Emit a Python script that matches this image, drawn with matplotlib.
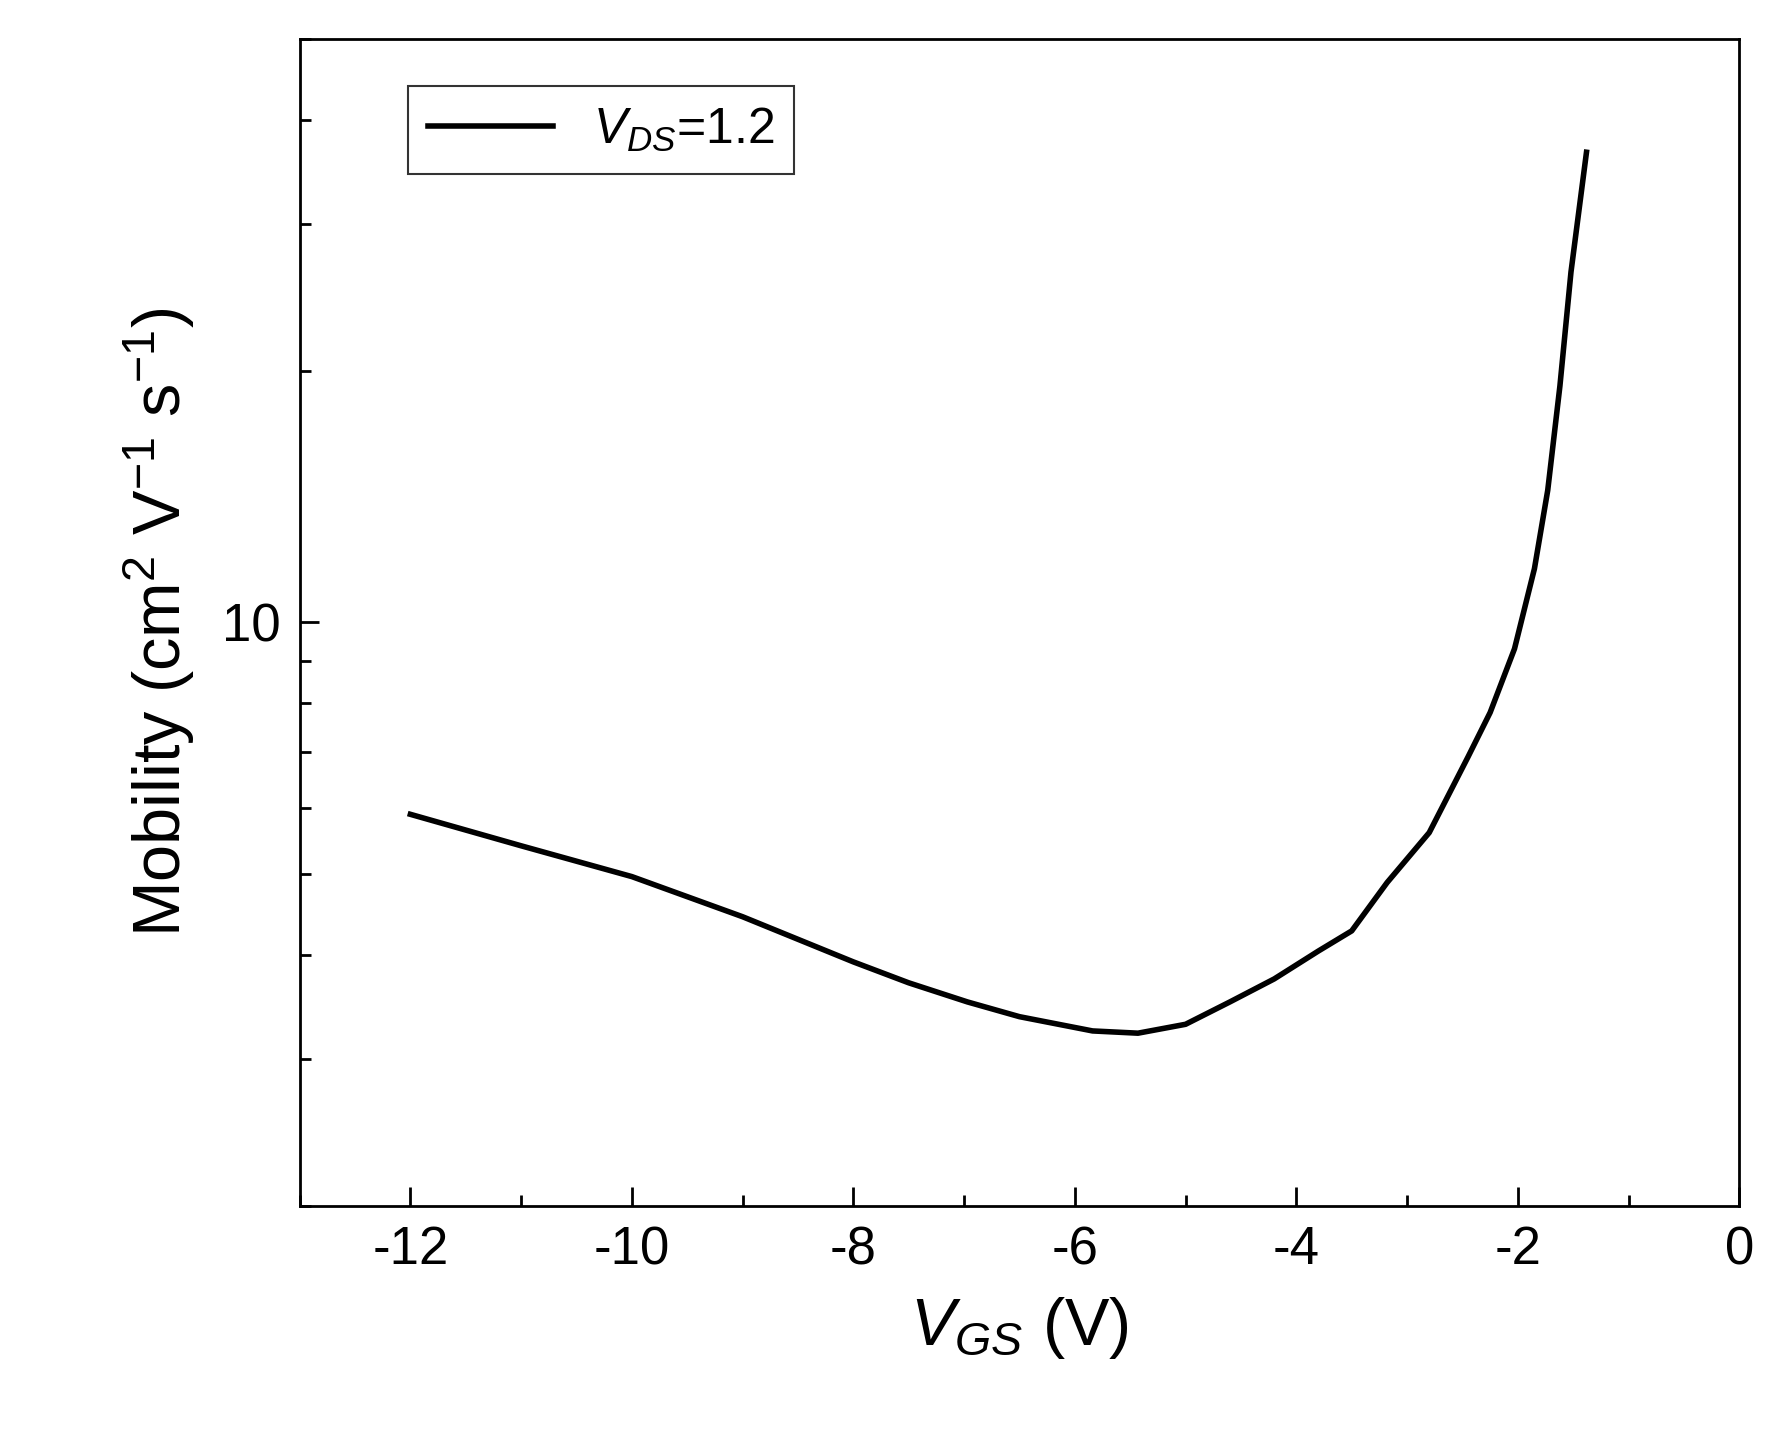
import numpy as np
import matplotlib.pyplot as plt
from matplotlib.ticker import LogLocator, FixedLocator, NullFormatter, FixedFormatter

VGS = [-12, -11, -10, -9, -8, -7.5, -6.97, -6.5, -5.84, -5.43, -5, -4.6, -4.2, -3.8,
       -3.5, -3.18, -2.8, -2.45, -2.25, -2.03, -1.85, -1.73, -1.62, -1.52, -1.38]
MOBILITY = [5.89, 5.4, 4.96, 4.44, 3.92, 3.7, 3.51, 3.37, 3.24, 3.22, 3.3, 3.51, 3.74, 4.04,
            4.27, 4.88, 5.6, 6.9, 7.8, 9.3, 11.6, 14.4, 19.2, 26.3, 36.6]

plt.rcParams["font.family"] = ["Liberation Sans", "DejaVu Sans"]
plt.rcParams["mathtext.fontset"] = "custom"
plt.rcParams["mathtext.rm"] = "Liberation Sans"
plt.rcParams["mathtext.it"] = "Liberation Sans:italic"
plt.rcParams["axes.unicode_minus"] = False

fig = plt.figure(figsize=(17.73, 14.51), dpi=100)
ax = fig.add_axes([0.169, 0.169, 0.812, 0.804])

ax.plot(VGS, MOBILITY, color="black", linewidth=4, label=r"$V_{DS}$=1.2")
ax.set_yscale("log")
ax.set_xlim(-13, 0)
ax.set_ylim(2, 50)

ax.xaxis.set_major_locator(FixedLocator([-12, -10, -8, -6, -4, -2, 0]))
ax.xaxis.set_minor_locator(FixedLocator(np.arange(-13, 0, 1)))
ax.yaxis.set_major_locator(FixedLocator([10]))
ax.yaxis.set_major_formatter(FixedFormatter(["10"]))
ax.yaxis.set_minor_locator(LogLocator(base=10, subs=np.arange(2, 10)))
ax.yaxis.set_minor_formatter(NullFormatter())

ax.tick_params(which="major", direction="in", length=14, width=2, labelsize=38, pad=14)
ax.tick_params(which="minor", direction="in", length=8, width=2)
for s in ax.spines.values():
    s.set_linewidth(2)

ax.set_xlabel(r"$V_{GS}$ (V)", fontsize=48, labelpad=14)
ax.set_ylabel(r"Mobility (cm$^2$ V$^{-1}$ s$^{-1}$)", fontsize=48, labelpad=18)

leg = ax.legend(loc="upper left", fontsize=36, fancybox=False, edgecolor="black",
                handlelength=2.5, bbox_to_anchor=(0.075, 0.96), borderaxespad=0)
leg.get_frame().set_linewidth(1.5)

fig.savefig("out.png")
